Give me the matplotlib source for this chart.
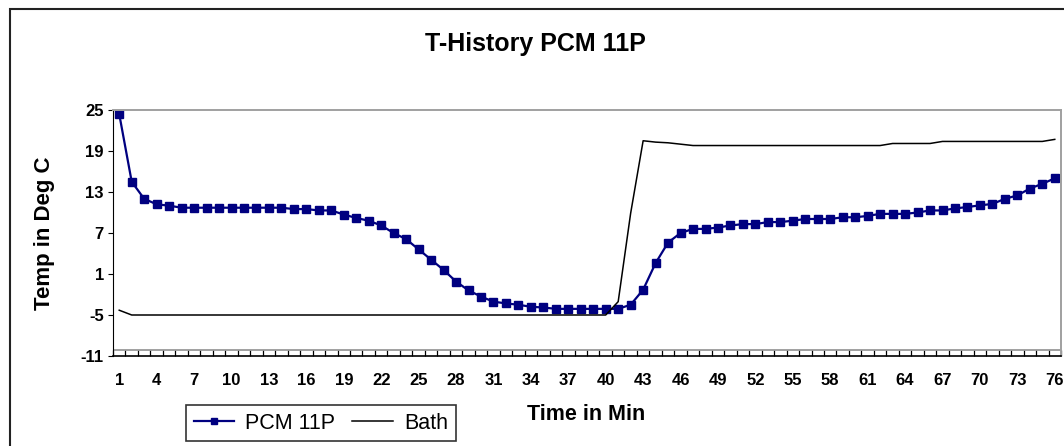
import numpy as np
import matplotlib
matplotlib.use("Agg")
import matplotlib.pyplot as plt
from matplotlib.patches import Rectangle

plt.rcParams['font.family'] = ['Liberation Sans', 'DejaVu Sans']
plt.rcParams['axes.unicode_minus'] = False

# time in minutes (categories 1..76)
minutes = list(range(1, 77))

pcm_11p = [24.4, 14.5, 12.0, 11.2, 11.0, 10.7, 10.7, 10.7, 10.7, 10.7,
           10.7, 10.7, 10.7, 10.7, 10.5, 10.5, 10.3, 10.3, 9.7, 9.2,
           8.8, 8.1, 7.0, 6.1, 4.6, 3.1, 1.6, -0.1, -1.4, -2.3,
           -3.05, -3.3, -3.5, -3.8, -3.9, -4.1, -4.1, -4.1, -4.1, -4.1,
           -4.1, -3.5, -1.3, 2.6, 5.6, 7.0, 7.6, 7.6, 7.8, 8.1,
           8.3, 8.3, 8.6, 8.6, 8.8, 9.05, 9.05, 9.05, 9.3, 9.3,
           9.5, 9.8, 9.8, 9.8, 10.0, 10.3, 10.3, 10.6, 10.8, 11.05,
           11.25, 12.0, 12.5, 13.5, 14.2, 15.0]

bath = [-4.3] + [-5.0] * 39 + [-3.05, 9.9, 20.5, 20.3, 20.2, 20.0] \
       + [19.8] * 16 + [20.1] * 4 + [20.4] * 9 + [20.7]

y_ticks = [-11, -5, 1, 7, 13, 19, 25]
x_labels = list(range(1, 77, 3))

fig = plt.figure(figsize=(10.64, 4.46), dpi=100)
ax = fig.add_axes([113 / 1064, 90 / 446, 948 / 1064, 246 / 446])

ax.plot(minutes, pcm_11p, color='#000080', linewidth=1.6, marker='s',
        markersize=5.2, label='PCM 11P')
ax.plot(minutes, bath, color='black', linewidth=1.1, label='Bath')

ax.set_xlim(0.5, 76.5)
ax.set_ylim(-11, 25)
ax.set_yticks(y_ticks)
ax.set_xticks(x_labels)
ax.set_xticks(np.arange(0.5, 77, 1), minor=True)
ax.tick_params(axis='x', which='major', length=0, pad=12, labelsize=12)
ax.tick_params(axis='x', which='minor', direction='in', length=4.5, width=0.9)
ax.tick_params(axis='y', direction='out', length=3.5, labelsize=12, pad=3)
for lbl in ax.get_xticklabels() + ax.get_yticklabels():
    lbl.set_fontweight('bold')

# excel style plot area frame
ax.axhline(-11 + 6 / 6.833, color='#909090', linewidth=1.2)
for side in ['top', 'right']:
    ax.spines[side].set_color('#a0a0a0')
    ax.spines[side].set_linewidth(1.4)
ax.spines['left'].set_color('black')
ax.spines['bottom'].set_color('black')
ax.spines['bottom'].set_linewidth(1.2)

fig.text(0.503, 1 - 44 / 446, 'T-History PCM 11P', ha='center', va='center',
         fontsize=18, fontweight='bold')
fig.text(45 / 1064, 1 - 233 / 446, 'Temp in Deg C', rotation=90,
         ha='center', va='center', fontsize=16, fontweight='bold')
fig.text(586 / 1064, 1 - 415 / 446, 'Time in Min', ha='center', va='center',
         fontsize=15.5, fontweight='bold')

leg = fig.legend(loc='upper left', bbox_to_anchor=(186 / 1064, 1 - 405 / 446),
                 ncol=2, fontsize=15.5, frameon=True, fancybox=False,
                 borderaxespad=0, handlelength=1.9, columnspacing=0.8,
                 handletextpad=0.5, borderpad=0.35, markerscale=0.8)
leg.get_frame().set_edgecolor('black')
leg.get_frame().set_linewidth(1.2)

# chart border
fig.patches.append(Rectangle((10 / 1064, -0.2), 1.2, 1.2 - 9 / 446,
                             transform=fig.transFigure, fill=False,
                             edgecolor='#222222', linewidth=1.5))

fig.savefig('out.png', dpi=100)
